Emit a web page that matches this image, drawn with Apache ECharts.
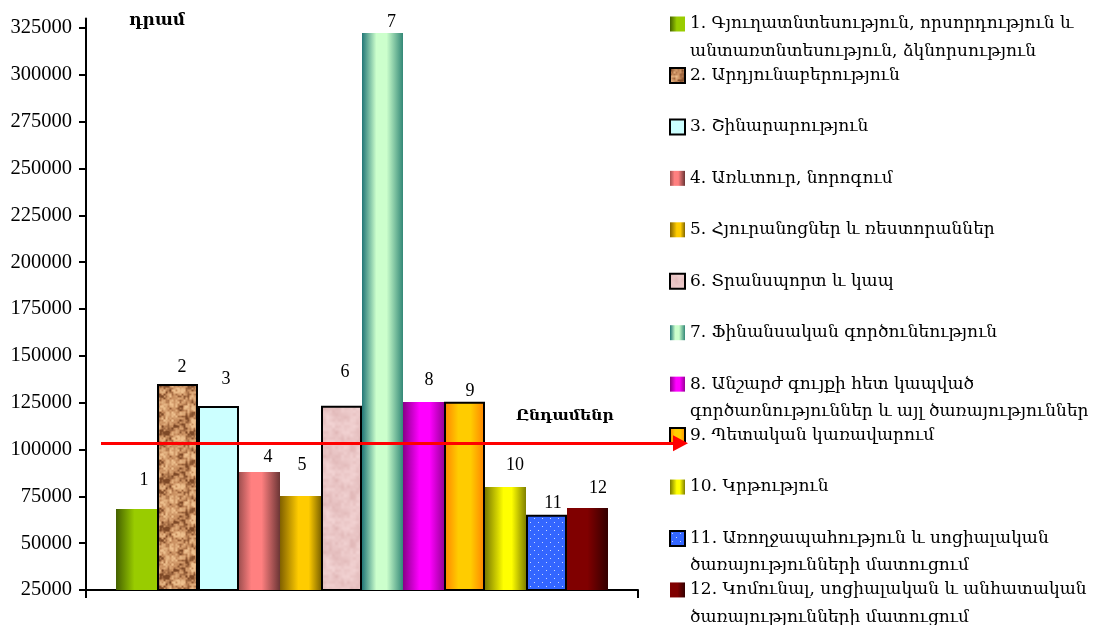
<!DOCTYPE html>
<html><head><meta charset="utf-8">
<script src="https://cdn.jsdelivr.net/npm/echarts@6/dist/echarts.min.js"></script>
<style>html,body{margin:0;padding:0;background:#fff}#c{width:1095px;height:625px}</style>
</head><body><div id="c"></div><script>
// ---------- data ----------
const categories = [
  '1. Գյուղատնտեսություն, որսորդություն և\nանտառտնտեսություն, ձկնորսություն',
  '2. Արդյունաբերություն',
  '3. Շինարարություն',
  '4. Առևտուր, նորոգում',
  '5. Հյուրանոցներ և ռեստորաններ',
  '6. Տրանսպորտ և կապ',
  '7. Ֆինանսական գործունեություն',
  '8. Անշարժ գույքի հետ կապված\nգործառնություններ և այլ ծառայություններ',
  '9. Պետական կառավարում',
  '10. Կրթություն',
  '11. Առողջապահություն և սոցիալական\nծառայությունների մատուցում',
  '12. Կոմունալ, սոցիալական և անհատական\nծառայությունների մատուցում'
];
const barLabels = ['1','2','3','4','5','6','7','8','9','10','11','12'];
const values = [68200, 135000, 123200, 88000, 75200, 123400, 322300, 125300, 125500, 80000, 65200, 68800];
const totalValue = 103300;
const totalLabel = 'Ընդամենր';
const unitLabel = 'դրամ';
const yTicks = [25000,50000,75000,100000,125000,150000,175000,200000,225000,250000,275000,300000,325000];

// ---------- styles ----------
const labelDx = [7.5, 4.5, 7.5, 8.5, 1.5, 3.5, 9, 5.5, 5.5, 9.5, 6.5, 10.5];
const labelDy = [-15, -3, -13, -1, -17, -19, 3, -8, 4, -8, 3, -6];
const bordered = [false, true, true, false, false, true, false, false, true, false, true, false];

function hash(x, y, s) {
  let h = Math.imul(x, 374761393) + Math.imul(y, 668265263) + Math.imul(s, 1442695041);
  h = Math.imul(h ^ (h >>> 13), 1274126177);
  h ^= h >>> 16;
  return (h >>> 0) / 4294967295;
}
function vnoise(x, y, cell, s, size) {
  const n = size / cell;
  const gx = x / cell, gy = y / cell;
  const x0 = Math.floor(gx), y0 = Math.floor(gy);
  const fx = gx - x0, fy = gy - y0;
  const sx = fx * fx * (3 - 2 * fx), sy = fy * fy * (3 - 2 * fy);
  const h = (i, j) => hash(((i % n) + n) % n, ((j % n) + n) % n, s);
  const a = h(x0, y0), b = h(x0 + 1, y0), c = h(x0, y0 + 1), d = h(x0 + 1, y0 + 1);
  return a + (b - a) * sx + (c - a) * sy + (a - b - c + d) * sx * sy;
}
function lerpC(c1, c2, t) { return c1.map((v, i) => Math.round(v + (c2[i] - v) * t)); }
function makeTexture(size, fn) {
  const cv = document.createElement('canvas');
  cv.width = size; cv.height = size;
  const ctx = cv.getContext('2d');
  const img = ctx.createImageData(size, size);
  for (let y = 0; y < size; y++) for (let x = 0; x < size; x++) {
    const c = fn(x, y);
    const k = (y * size + x) * 4;
    img.data[k] = c[0]; img.data[k + 1] = c[1]; img.data[k + 2] = c[2]; img.data[k + 3] = 255;
  }
  ctx.putImageData(img, 0, 0);
  return { image: cv, repeat: 'repeat' };
}
const S = 48;
const cork = makeTexture(S, (x, y) => {
  const n = 0.55 * vnoise(x, y, 6, 1, S) + 0.45 * vnoise(x, y, 2, 2, S);
  const dark = [125, 72, 38], base = [200, 142, 95], light = [238, 192, 142];
  if (n < 0.5) return lerpC(dark, base, Math.min(1, Math.max(0, (n - 0.2) / 0.3)));
  return lerpC(base, light, Math.min(1, Math.max(0, (n - 0.5) / 0.3)));
});
const marble = makeTexture(S, (x, y) => {
  const n = 0.6 * vnoise(x, y, 8, 3, S) + 0.4 * vnoise(x, y, 3, 4, S);
  return lerpC([222, 180, 180], [244, 214, 214], n);
});
const dots = makeTexture(8, (x, y) => {
  if ((x === 2 && y === 2) || (x === 6 && y === 6)) return [200, 215, 255];
  return [51, 102, 255];
});
const G = (stops) => new echarts.graphic.LinearGradient(0, 0, 1, 0, stops.map(s => ({ offset: s[0], color: s[1] })));
const fills = [
  G([[0, '#446000'], [0.45, '#99cc00'], [1, '#99cc00']]),
  cork,
  '#ccffff',
  G([[0, '#a05050'], [0.3, '#ff8080'], [0.55, '#ff8080'], [1, '#6b3535']]),
  G([[0, '#806000'], [0.45, '#ffcc00'], [0.7, '#ffcc00'], [1, '#806600']]),
  marble,
  G([[0, '#227777'], [0.35, '#ccffcc'], [0.6, '#ccffcc'], [1, '#338877']]),
  G([[0, '#880088'], [0.4, '#ff00ff'], [0.65, '#ff00ff'], [1, '#990099']]),
  G([[0, '#ff8000'], [0.35, '#ffcc00'], [0.65, '#ffcc00'], [1, '#ff8000']]),
  G([[0, '#7a7a00'], [0.45, '#ffff00'], [0.65, '#ffff00'], [1, '#808000']]),
  dots,
  G([[0, '#800000'], [0.5, '#800000'], [1, '#330000']])
];

const SERIF = "'Liberation Serif', 'DejaVu Serif', serif";
const ARM = "'DejaVu Serif', serif";
const yMin = 25000, yMax = 330000;
const gridTop = 18.6, gridBottom = 625 - 590;
const LH = 27.5;          // legend line height
const legendStep = 51.45; // distance between legend entries

const series = categories.map((name, i) => ({
  name: name,
  type: 'bar',
  xAxisIndex: 0, yAxisIndex: 0,
  stack: 'all',
  barWidth: '100%',
  data: values.map((v, j) => (j === i ? v : '-')),
  itemStyle: {
    color: fills[i],
    borderColor: '#000',
    borderWidth: bordered[i] ? 2 : 0
  },
  label: {
    show: true, position: 'top',
    formatter: () => barLabels[i],
    offset: [labelDx[i], labelDy[i]],
    fontFamily: SERIF, fontSize: 18, color: '#000'
  },
  emphasis: { disabled: true },
  silent: true
}));

series.push({
  name: 'total', type: 'line', xAxisIndex: 1, yAxisIndex: 1, data: [],
  silent: true,
  markLine: {
    silent: true,
    symbol: ['none', 'triangle'],
    symbolSize: [16, 15],
    label: { show: false },
    lineStyle: { color: '#ff0000', width: 3, type: 'solid' },
    emphasis: { disabled: true },
    data: [[{ x: 101, yAxis: totalValue }, { x: 680.5, yAxis: totalValue }]]
  }
});

// every legend entry gets the same box height (3 lines), first text line aligned with its icon
const isTwoLine = name => name.indexOf('\n') >= 0;
const legendData = categories.map(name => ({
  name: name,
  textStyle: { padding: isTwoLine(name) ? 0 : [LH, 0, LH, 0] }
}));
const boxH = 3 * LH;
const iconCenter0 = 24;

const chart = echarts.init(document.getElementById('c'));
chart.setOption({
  animation: false,
  backgroundColor: '#fff',
  title: {
    text: unitLabel, left: 129, top: 12.5, padding: 0,
    textStyle: { fontFamily: ARM, fontWeight: 'bold', fontSize: 17, color: '#000' }
  },
  graphic: [{
    type: 'text', left: 516, top: 408,
    style: { text: totalLabel, fontFamily: ARM, fontWeight: 'bold', fontSize: 15.5, fill: '#000' }
  }],
  legend: {
    data: legendData,
    formatter: name => (isTwoLine(name) ? '\n' + name : name),
    orient: 'vertical',
    left: 669,
    top: iconCenter0 - boxH / 2,
    height: 800,
    padding: 0,
    icon: 'rect',
    itemWidth: 15, itemHeight: 15,
    itemGap: legendStep - boxH,
    selectedMode: false,
    textStyle: { fontFamily: ARM, fontSize: 17, color: '#000', lineHeight: LH }
  },
  grid: [
    { left: 116, width: 492, top: gridTop, bottom: gridBottom },
    { left: 86, width: 552, top: gridTop, bottom: gridBottom }
  ],
  xAxis: [
    { type: 'category', gridIndex: 0, data: barLabels, show: false, boundaryGap: true },
    {
      type: 'value', gridIndex: 1, min: 0, max: 1, position: 'bottom',
      axisLine: { show: true, lineStyle: { color: '#000', width: 2 } },
      axisTick: { show: true, customValues: [0, 1], length: 8, lineStyle: { color: '#000', width: 2 } },
      axisLabel: { show: false },
      splitLine: { show: false }
    }
  ],
  yAxis: [
    { type: 'value', gridIndex: 0, min: yMin, max: yMax, show: false },
    {
      type: 'value', gridIndex: 1, min: yMin, max: yMax, position: 'left',
      axisLine: { show: true, lineStyle: { color: '#000', width: 2 } },
      axisTick: { show: true, customValues: yTicks, length: 7, lineStyle: { color: '#000', width: 2 } },
      axisLabel: { customValues: yTicks, margin: 14, fontFamily: SERIF, fontSize: 20.5, color: '#000',
        formatter: v => String(v) },
      splitLine: { show: false }
    }
  ],
  series: series
});
</script></body></html>
